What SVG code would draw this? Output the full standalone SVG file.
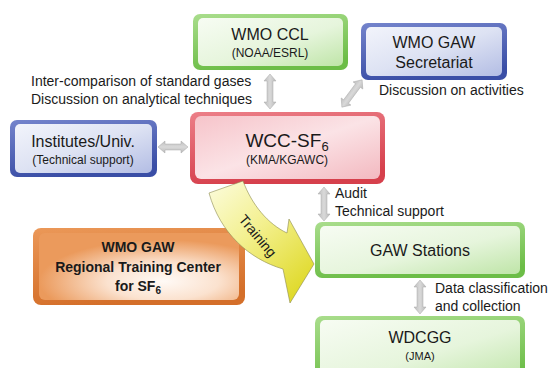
<svg xmlns="http://www.w3.org/2000/svg" width="549" height="368" viewBox="0 0 549 368">
<defs>
<linearGradient id="gOut" x1="0" y1="0" x2="0.3" y2="1"><stop offset="0" stop-color="#a9dd8c"/><stop offset="1" stop-color="#6cbd47"/></linearGradient>
<linearGradient id="gIn" x1="0" y1="0" x2="1" y2="1"><stop offset="0" stop-color="#f7fcf3"/><stop offset="0.55" stop-color="#e6f5dc"/><stop offset="1" stop-color="#bfe5a8"/></linearGradient>
<linearGradient id="bOut" x1="0" y1="0" x2="0.3" y2="1"><stop offset="0" stop-color="#7484cc"/><stop offset="1" stop-color="#3a4ea6"/></linearGradient>
<linearGradient id="bIn" x1="0" y1="0" x2="1" y2="1"><stop offset="0" stop-color="#f2f4fb"/><stop offset="0.5" stop-color="#dde2f3"/><stop offset="1" stop-color="#b3bde4"/></linearGradient>
<linearGradient id="rOut" x1="0" y1="0" x2="0.3" y2="1"><stop offset="0" stop-color="#ec7f88"/><stop offset="1" stop-color="#d6404c"/></linearGradient>
<linearGradient id="rIn" x1="0" y1="0" x2="1" y2="1"><stop offset="0" stop-color="#f6c4ca"/><stop offset="0.5" stop-color="#fbe3e6"/><stop offset="1" stop-color="#f3b9c0"/></linearGradient>
<linearGradient id="oOut" x1="0" y1="0" x2="0.3" y2="1"><stop offset="0" stop-color="#eb9858"/><stop offset="1" stop-color="#d46f2a"/></linearGradient>
<radialGradient id="oIn" cx="0.62" cy="0.72" r="0.62"><stop offset="0" stop-color="#fffaf6"/><stop offset="0.45" stop-color="#fbe2cf"/><stop offset="1" stop-color="#eb9a5c"/></radialGradient>
<linearGradient id="yel" gradientUnits="userSpaceOnUse" x1="215" y1="185" x2="305" y2="285"><stop offset="0" stop-color="#fbfbd6"/><stop offset="0.45" stop-color="#f3f08e"/><stop offset="1" stop-color="#e0da2c"/></linearGradient>
<linearGradient id="gray" x1="0" y1="0" x2="1" y2="0"><stop offset="0" stop-color="#bdbdbd"/><stop offset="0.5" stop-color="#d9d9d9"/><stop offset="1" stop-color="#b9b9b9"/></linearGradient>
<linearGradient id="grayH" x1="0" y1="0" x2="0" y2="1"><stop offset="0" stop-color="#bdbdbd"/><stop offset="0.5" stop-color="#d9d9d9"/><stop offset="1" stop-color="#b9b9b9"/></linearGradient>
</defs>
<style>
text{font-family:"Liberation Sans",Arial,sans-serif;fill:#1a1a1a}
.t16{font-size:16px;text-anchor:middle}
.t12{font-size:12px;text-anchor:middle}
.t11{font-size:11px;text-anchor:middle}
.lbl{font-size:14px}
.bold{font-size:14px;font-weight:bold;text-anchor:middle}
.conn{stroke:#a8a8a8;stroke-width:0.5}
</style>
<rect width="549" height="368" fill="#ffffff"/>

<g id="ccl">
<rect x="193" y="14" width="155" height="56" rx="7" fill="url(#gOut)"/>
<rect x="198" y="18" width="145" height="48" rx="5" fill="url(#gIn)"/>
<text class="t16" x="270" y="40">WMO CCL</text>
<text class="t12" x="270" y="57">(NOAA/ESRL)</text>
</g>

<g id="secretariat">
<rect x="361" y="23" width="146" height="57" rx="7" fill="url(#bOut)"/>
<rect x="366" y="27" width="136" height="49" rx="5" fill="url(#bIn)"/>
<text class="t16" x="434" y="48">WMO GAW</text>
<text class="t16" x="434" y="68">Secretariat</text>
</g>

<g id="institutes">
<rect x="10" y="120" width="147" height="57" rx="7" fill="url(#bOut)"/>
<rect x="15" y="124" width="137" height="49" rx="5" fill="url(#bIn)"/>
<text class="t16" x="83" y="147">Institutes/Univ.</text>
<text class="t12" x="83" y="164">(Technical support)</text>
</g>

<g id="wcc">
<rect x="190" y="112" width="195" height="72" rx="8" fill="url(#rOut)"/>
<rect x="195" y="116" width="185" height="63" rx="6" fill="url(#rIn)"/>
<text x="287" y="147" style="font-size:19px;text-anchor:middle">WCC-SF<tspan style="font-size:13px" dy="4">6</tspan></text>
<text class="t12" x="287" y="164">(KMA/KGAWC)</text>
</g>

<g id="rtc">
<rect x="33" y="228" width="212" height="77" rx="8" fill="url(#oOut)"/>
<rect x="39" y="233" width="200" height="67" rx="6" fill="url(#oIn)"/>
<text class="bold" x="138" y="252">WMO GAW</text>
<text class="bold" x="138" y="272">Regional Training Center</text>
<text class="bold" x="138" y="291">for SF<tspan style="font-size:10px" dy="3">6</tspan></text>
</g>

<g id="gaw">
<rect x="315" y="222" width="210" height="56" rx="7" fill="url(#gOut)"/>
<rect x="320" y="226" width="200" height="48" rx="5" fill="url(#gIn)"/>
<text class="t16" x="420" y="256">GAW Stations</text>
</g>

<g id="wdcgg">
<rect x="315" y="316" width="210" height="70" rx="7" fill="url(#gOut)"/>
<rect x="320" y="320" width="200" height="62" rx="5" fill="url(#gIn)"/>
<text class="t16" x="420" y="343">WDCGG</text>
<text class="t11" x="420" y="360">(JMA)</text>
</g>

<g id="training">
<path d="M209,193 L243,181 C252,205 268,224 287,233 L289,219 L314,264 L290,303 L283,269 C249,259 220,233 209,193 Z" fill="url(#yel)" stroke="#8c8a50" stroke-width="0.6"/>
<text x="0" y="0" transform="translate(254,239) rotate(50)" style="font-size:14px;text-anchor:middle">Training</text>
</g>

<g id="connectors">
<polygon class="conn" fill="url(#gray)" points="270,74 276,81 273,81 273,102 276,102 270,109 264,102 267,102 267,81 264,81"/>
<polygon class="conn" fill="url(#grayH)" transform="translate(352,93.5) rotate(-53.5)" points="-17,0 -10,-6 -10,-3 10,-3 10,-6 17,0 10,6 10,3 -10,3 -10,6"/>
<polygon class="conn" fill="url(#grayH)" points="158,147 165,141 165,144 181,144 181,141 188,147 181,153 181,150 165,150 165,153"/>
<polygon class="conn" fill="url(#gray)" points="324,187 330,194 327,194 327,214 330,214 324,221 318,214 321,214 321,194 318,194"/>
<polygon class="conn" fill="url(#gray)" points="420,280 426,287 423,287 423,307 426,307 420,314 414,307 417,307 417,287 414,287"/>
</g>

<g id="labels">
<text class="lbl" x="31" y="86">Inter-comparison of standard gases</text>
<text class="lbl" x="31" y="104">Discussion on analytical techniques</text>
<text class="lbl" x="379" y="95">Discussion on activities</text>
<text class="lbl" x="335" y="198">Audit</text>
<text class="lbl" x="335" y="216">Technical support</text>
<text class="lbl" x="435" y="293">Data classification</text>
<text class="lbl" x="435" y="311">and collection</text>
</g>
</svg>
